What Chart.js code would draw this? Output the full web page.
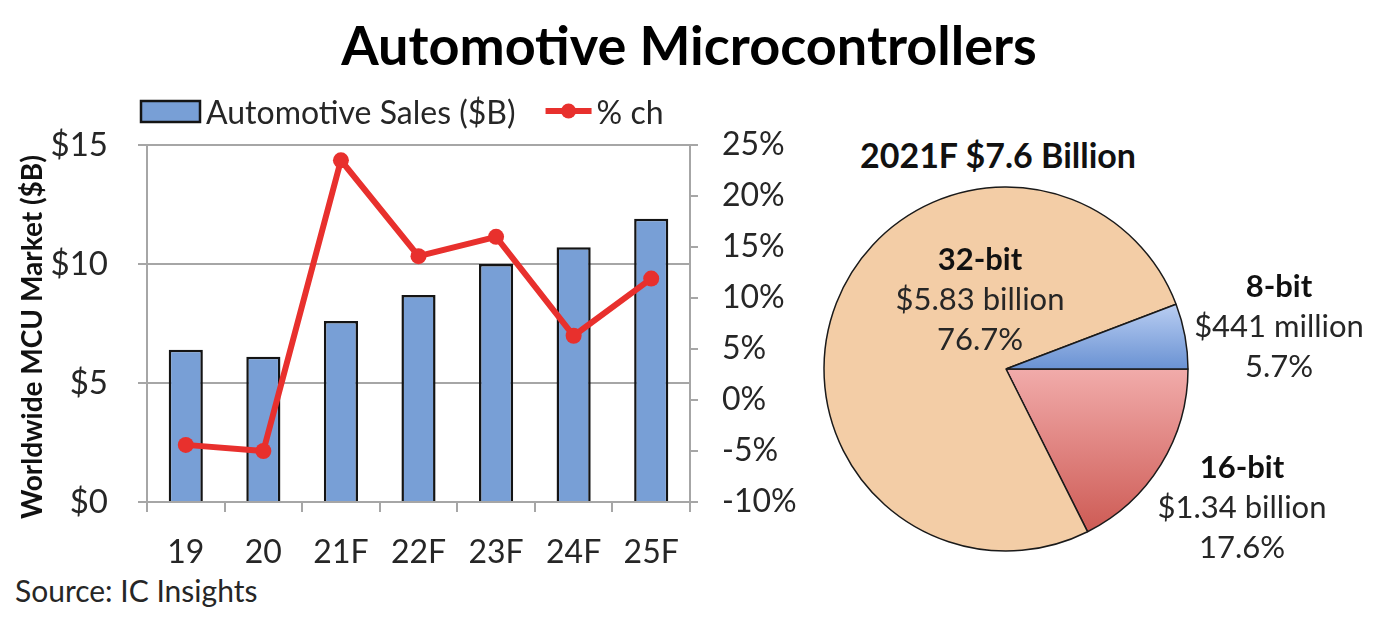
<!DOCTYPE html>
<html>
<head>
<meta charset="utf-8">
<script src="https://cdn.jsdelivr.net/npm/chart.js@4.4.1/dist/chart.umd.min.js"></script>
<style>
  html, body { margin:0; padding:0; background:#fff; }
  body { width:1374px; height:638px; position:relative; overflow:hidden; font-family: Lato, "Open Sans", sans-serif; }
  #title { position:absolute; left:0; width:1378px; top:14px; text-align:center; font-weight:700; font-size:54px; line-height:62px; color:#000; }
  #src { position:absolute; left:15px; top:572px; font-size:30px; line-height:36px; color:#262626; }
  #pieTitle { position:absolute; left:800px; width:396px; top:135px; text-align:center; font-weight:700; font-size:34px; line-height:40px; color:#111; }
  #w1 { position:absolute; left:0; top:0; width:800px; height:638px; }
  #w2 { position:absolute; left:800px; top:0; width:574px; height:638px; }
</style>
</head>
<body>
<div id="title">Automotive Microcontrollers</div>
<div id="pieTitle">2021F $7.6 Billion</div>
<div id="src">Source: IC Insights</div>
<div id="w1"><canvas id="c1"></canvas></div>
<div id="w2"><canvas id="c2"></canvas></div>
<script>
// ---- data ----
const categories = ['19', '20', '21F', '22F', '23F', '24F', '25F'];
const salesB = [6.4, 6.1, 7.6, 8.7, 10.0, 10.7, 11.9];
const pctChange = [-4.4, -5.0, 23.5, 14.1, 16.0, 6.3, 11.9];
const leftTickValues = [0, 5, 10, 15];
const rightTickValues = [-10, -5, 0, 5, 10, 15, 20, 25];
const seriesNames = ['Automotive Sales ($B)', '% ch'];
const leftAxisTitle = 'Worldwide MCU Market ($B)';

const pieNames = ['16-bit', '32-bit', '8-bit'];
const pieValuesB = [1.34, 5.83, 0.441];
const pieValueLabels = ['$1.34 billion', '$5.83 billion', '$441 million'];
const piePctLabels = ['17.6%', '76.7%', '5.7%'];

// ---- styles ----
const FONT = 'Lato, "Open Sans", sans-serif';
const GRID = '#A6A6A6';
const TXT = '#262626';
const BAR = '#789FD6';
const RED = '#E8302D';

const legendPlugin = {
  id: 'customLegend',
  afterDraw(chart) {
    const ctx = chart.ctx;
    ctx.save();
    ctx.font = '32px ' + FONT;
    ctx.textBaseline = 'middle';
    // bar item
    ctx.fillStyle = BAR;
    ctx.fillRect(141, 101, 59, 21);
    ctx.strokeStyle = '#141414';
    ctx.lineWidth = 2.5;
    ctx.strokeRect(141, 101, 59, 21);
    ctx.fillStyle = TXT;
    const barLabel = chart.data.datasets[1].label;
    ctx.fillText(barLabel, 206, 114);
    const w = ctx.measureText(barLabel).width;
    const x2 = 206 + w + 30;
    ctx.strokeStyle = RED;
    ctx.lineWidth = 6;
    ctx.beginPath();
    ctx.moveTo(x2, 111);
    ctx.lineTo(x2 + 46, 111);
    ctx.stroke();
    ctx.fillStyle = RED;
    ctx.beginPath();
    ctx.arc(x2 + 23, 111, 7.5, 0, Math.PI * 2);
    ctx.fill();
    ctx.fillStyle = TXT;
    ctx.fillText(chart.data.datasets[0].label, x2 + 51, 114);
    // left axis title
    ctx.save();
    ctx.translate(33, 337);
    ctx.rotate(-Math.PI / 2);
    ctx.textAlign = 'center';
    ctx.font = 'bold 28px ' + FONT;
    ctx.fillStyle = '#111';
    ctx.fillText(leftAxisTitle, 0, 0);
    ctx.restore();
    ctx.restore();
  }
};

new Chart(document.getElementById('c1'), {
  data: {
    labels: categories,
    datasets: [
      {
        type: 'line', label: seriesNames[1], data: pctChange, yAxisID: 'y1', order: 0,
        borderColor: RED, backgroundColor: RED, borderWidth: 6,
        pointRadius: 8, pointBackgroundColor: RED, pointBorderWidth: 0, tension: 0
      },
      {
        type: 'bar', label: seriesNames[0], data: salesB, yAxisID: 'y', order: 1,
        backgroundColor: BAR, borderColor: '#141414', borderWidth: 2.5,
        categoryPercentage: 1.0, barPercentage: 0.44
      }
    ]
  },
  options: {
    responsive: true, maintainAspectRatio: false, animation: false,
    layout: { padding: { top: 145, left: 0, right: 0, bottom: 0 } },
    plugins: { legend: { display: false }, tooltip: { enabled: false } },
    scales: {
      x: {
        offset: true,
        grid: { display: true, drawOnChartArea: false, drawTicks: true, tickLength: 10, color: GRID, lineWidth: 2, offset: true },
        border: { display: true, color: GRID, width: 2 },
        ticks: { color: TXT, font: { family: FONT, size: 32 }, padding: 21, maxRotation: 0 },
        afterFit(s) { s.height = 136; }
      },
      y: {
        position: 'left', min: 0, max: 15,
        afterBuildTicks(s) { s.ticks = leftTickValues.map(v => ({ value: v })); },
        grid: { color: GRID, lineWidth: 2, tickLength: 9, drawTicks: true },
        border: { display: true, color: GRID, width: 2 },
        ticks: { color: TXT, font: { family: FONT, size: 33 }, padding: 30, callback: v => '$' + v },
        afterFit(s) { s.width = 147; }
      },
      y1: {
        position: 'right', min: -10, max: 25,
        afterBuildTicks(s) { s.ticks = rightTickValues.map(v => ({ value: v })); },
        grid: { drawOnChartArea: false, color: GRID, lineWidth: 2, tickLength: 8, drawTicks: true },
        border: { display: true, color: GRID, width: 2 },
        ticks: { color: TXT, font: { family: FONT, size: 32 }, padding: 24, callback: v => v + '%' },
        afterFit(s) { s.width = 110; }
      }
    }
  },
  plugins: [legendPlugin]
});

// ---- pie ----
const PIE_CX = 206, PIE_CY = 369, PIE_R = 182;
function pieFill(ctx) {
  const chart = ctx.chart;
  const i = ctx.dataIndex;
  const c = chart.ctx;
  if (i === 1) return '#F3CDA6';
  if (i === 2) {
    const g = c.createLinearGradient(0, PIE_CY - PIE_R * 0.37, 0, PIE_CY);
    g.addColorStop(0, '#BCD0F3'); g.addColorStop(1, '#6A92D3');
    return g;
  }
  const g = c.createLinearGradient(0, PIE_CY, 0, PIE_CY + PIE_R * 0.88);
  g.addColorStop(0, '#F1ABAA'); g.addColorStop(1, '#CE5C56');
  return g;
}

const pieLabelPos = [ [1242, 468], [980, 260], [1279, 287] ];

const pieLabelPlugin = {
  id: 'pieLabels',
  afterDraw(chart) {
    const ctx = chart.ctx;
    ctx.save();
    ctx.textAlign = 'center';
    ctx.textBaseline = 'middle';
    pieNames.forEach((n, i) => {
      const x = pieLabelPos[i][0] - 800, y = pieLabelPos[i][1];
      ctx.font = 'bold 31px ' + FONT;
      ctx.fillStyle = '#111';
      ctx.fillText(n, x, y);
      ctx.font = '31px ' + FONT;
      ctx.fillStyle = TXT;
      ctx.fillText(pieValueLabels[i], x, y + 40);
      ctx.fillText(piePctLabels[i], x, y + 80);
    });
    ctx.restore();
  }
};

const pieBorder = 1.5;
new Chart(document.getElementById('c2'), {
  type: 'pie',
  data: {
    labels: pieNames,
    datasets: [{
      data: pieValuesB,
      backgroundColor: pieFill,
      borderColor: '#1a1a1a',
      borderWidth: pieBorder,
      borderAlign: 'center'
    }]
  },
  options: {
    responsive: true, maintainAspectRatio: false, animation: false,
    rotation: 90,
    layout: { padding: {
      left: PIE_CX - PIE_R - pieBorder / 2,
      right: 574 - PIE_CX - PIE_R - pieBorder / 2,
      top: PIE_CY - PIE_R - pieBorder / 2,
      bottom: 638 - PIE_CY - PIE_R - pieBorder / 2
    } },
    plugins: { legend: { display: false }, tooltip: { enabled: false } }
  },
  plugins: [pieLabelPlugin]
});
</script>
</body>
</html>
